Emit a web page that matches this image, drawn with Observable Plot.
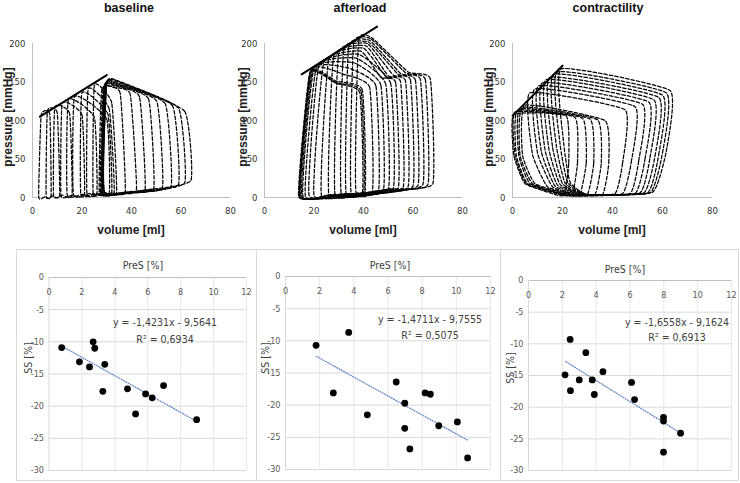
<!DOCTYPE html>
<html><head><meta charset="utf-8">
<script src="https://cdn.jsdelivr.net/npm/d3@7"></script>
<script src="https://cdn.jsdelivr.net/npm/@observablehq/plot@0.6"></script>
<style>
body{margin:0;background:#fff;}
#root{position:relative;width:740px;height:483px;overflow:hidden;font-family:"Liberation Sans Narrow","DejaVu Sans Condensed","Liberation Sans",sans-serif;}
.t{position:absolute;white-space:nowrap;transform:translate(-50%,-50%);line-height:1;}
.rot{transform:translate(-50%,-50%) rotate(-90deg);}
.box{position:absolute;border:1px solid #d9d9d9;box-sizing:border-box;}
svg{overflow:visible;}
</style></head><body><div id="root"></div>
<script>
// ---------- data ----------
const panelTitles = ["baseline", "afterload", "contractility"];
const volTicks = [0, 20, 40, 60, 80];
const pressTicks = [0, 50, 100, 150, 200];
const presTicks = [0, 2, 4, 6, 8, 10, 12];
const ssTicks = [0, -5, -10, -15, -20, -25, -30];

// PV loops: vertices [volume ml, pressure mmHg]
const baselineLoops = [
  [[64,22],[61.5,112],[35,151],[30,149],[29,8],[46,10]],
  [[61.5,19],[59,116],[35,150],[30,148],[29,8],[45,9]],
  [[59,17],[56.6,119],[34.5,149],[29.5,147],[29,7],[44,9]],
  [[56,15],[53.6,122],[34,148],[29.5,146],[28.5,7],[42,8]],
  [[52.5,13],[50.2,125],[34,147],[29,145],[28.5,7],[40,8]],
  [[49,12],[46.9,128],[33.5,146],[29,144],[28,7],[38,7]],
  [[45.5,11],[43.2,131],[33,145],[29,143],[28,6],[37,7]],
  [[42,10],[39.5,134],[32.5,143],[28.5,141],[27.5,6],[35,6]],
  [[37.5,8],[35.4,136],[28,140],[27,6],[32,6]],
  [[34,7],[32,123],[25,146],[24.5,6],[29,6]],
  [[33,7],[31,115],[22.5,141],[22,5],[27,5]],
  [[32,6],[30.5,108],[20,136],[19.5,5],[25,5]],
  [[31,6],[30,102],[17,131],[16.5,4],[23,5]],
  [[26,5],[25,104],[14.5,127],[14,4],[20,4]],
  [[21,4],[20,107],[12,122],[11.5,3],[16,3]],
  [[16,3],[15,109],[9,117],[8.5,3],[12,3]],
  [[11,3],[10,110],[6,112],[5.5,2],[8,2]],
  [[7.5,2],[7,108],[3.5,107],[2.5,1],[5,1]]
];
const afterloadLoops = [
  [[40,6],[39,138],[29,149],[18.5,163],[14,2],[26,3]],
  [[40.5,6],[39.5,140],[29,151],[18.7,164],[14.2,2],[26,3]],
  [[39.5,6],[38.5,136],[29,148],[18.3,162],[13.8,2],[26,3]],
  [[43.5,7],[42.5,143],[32,160],[19,166],[14.5,2],[28,4]],
  [[46,8],[45,145],[34,168],[19.5,167],[15,2],[30,4]],
  [[48,9],[47,146],[36,175],[20,168],[15.5,2],[31,4]],
  [[50,10],[49,147],[37,181],[21,170],[16.5,2],[32,5]],
  [[52,11],[51,148],[38,186],[22,172],[18,3],[34,5]],
  [[54,12],[53,149],[47,156],[39,190],[24,176],[20,3],[36,5]],
  [[56,13],[55,150],[49,157],[40,194],[26,180],[23,3],[38,6]],
  [[58,14],[57,151],[50,158],[41,197],[28,184],[26,4],[40,6]],
  [[60,15],[59,152],[52,159],[41.5,200],[30,188],[28.5,4],[42,7]],
  [[62,16],[61,152],[54,160],[42,202],[32,192],[31,5],[44,8]],
  [[64,17],[63,153],[55,161],[42.5,204],[34,196],[33,5],[46,9]],
  [[66,17],[65,153],[57,162],[43,206],[36,200],[35,6],[48,10]],
  [[68,18],[67,154],[58,163],[43.5,207],[38,204],[37,6],[50,11]]
];
const contractilityLoops = [
  [[56,7],[61.5,60],[63,139],[19.5,167],[20.5,70],[23,20],[30,4]],
  [[55,6],[60,58],[61.5,136],[18,163],[19,70],[22,20],[29.5,4]],
  [[54,6],[58.5,56],[60,133],[16.5,160],[17.5,68],[21,19],[29,4]],
  [[52.5,6],[57,54],[58.5,130],[15,156],[16,66],[20,18],[28.5,4]],
  [[51,6],[55,52],[56.5,127],[13.5,153],[14.5,64],[19,17],[28,4]],
  [[49,5],[53,50],[54.5,124],[12,149],[13,62],[18,16],[27.5,4]],
  [[47,5],[50.5,48],[52,121],[10.5,145],[11.5,60],[17,15],[27,3]],
  [[44,5],[47.5,46],[49,118],[9,141],[10,58],[16,14],[26.5,3]],
  [[41,5],[44,44],[45,114],[7,136],[8,56],[14,14],[26,3]],
  [[36,4],[38.5,45],[37,100],[5,120],[4,55],[9,18],[24,3]],
  [[33,4],[35.5,45],[34,101],[4,117],[3,55],[8,18],[23,3]],
  [[30,4],[32.5,45],[31,102],[3,115],[2.5,55],[7,18],[22,3]],
  [[27,4],[29.5,45],[28,103],[2,113],[1.5,55],[6,18],[21,3]],
  [[24,4],[26,45],[25,104],[1,111],[1,55],[5.5,18],[20,3]],
  [[21,4],[22.5,45],[21.5,106],[0.5,108],[0.5,55],[5,18],[18,3]]
];
// ESPVR lines (solid)
const baselineEspvr = [[3,105],[30,159]];
const afterloadEspvr = [[15,160],[45.5,222]];
const contractilityEspvr = [[0,106],[20,171]];

// Scatter data: PreS [%] vs SS [%]
const baselinePreS = [0.77,1.85,2.46,2.68,2.78,3.27,3.39,4.77,5.26,5.87,6.27,6.96,8.97];
const baselineSS   = [-10.9,-13.1,-13.9,-10.0,-11.0,-17.7,-13.5,-17.3,-21.2,-18.1,-18.7,-16.8,-22.1];
const afterloadPreS = [1.79,2.80,3.70,4.79,6.48,6.98,6.98,7.28,8.17,8.48,8.97,10.06,10.66];
const afterloadSS   = [-10.7,-18.1,-8.7,-21.5,-16.4,-19.7,-23.6,-26.8,-18.1,-18.3,-23.2,-22.6,-28.2];
const contractilityPreS = [2.46,2.16,2.48,3.0,3.39,3.77,3.89,4.40,6.09,6.27,7.98,7.98,8.99,7.98];
const contractilitySS   = [-9.3,-14.9,-17.4,-15.7,-11.4,-15.7,-18.0,-14.4,-16.1,-18.8,-21.6,-22.2,-24.1,-27.1];
// trend line end points [PreS, SS]
const baselineTrend = [[0.8,-10.7],[9.0,-22.4]];
const afterloadTrend = [[1.8,-12.4],[10.7,-25.5]];
const contractilityTrend = [[2.2,-12.8],[9.0,-24.1]];
const equations = ["y = -1,4231x - 9,5641", "y = -1,4711x - 9,7555", "y = -1,6558x - 9,1624"];
const r2 = ["R\u00B2 = 0,6934", "R\u00B2 = 0,5075", "R\u00B2 = 0,6913"];

// ---------- layout ----------
const root = document.getElementById("root");
const FONT = "'Liberation Sans Narrow','DejaVu Sans Condensed','Liberation Sans',sans-serif";
function put(node, left, top) {
  node.style.position = "absolute"; node.style.left = left + "px"; node.style.top = top + "px";
  root.appendChild(node);
}
function txt(s, x, y, css, rot) {
  const d = document.createElement("div");
  d.className = "t" + (rot ? " rot" : "");
  d.textContent = s;
  d.style.left = x + "px"; d.style.top = y + "px";
  Object.assign(d.style, css || {});
  root.appendChild(d);
}
function box(l, t, w, h) {
  const d = document.createElement("div"); d.className = "box";
  d.style.left = l + "px"; d.style.top = t + "px"; d.style.width = w + "px"; d.style.height = h + "px";
  root.appendChild(d);
}

function pvPlot(loops, espvr, ml, mr) {
  const rows = loops.flatMap((loop, i) => loop.map(([v, p]) => ({loop: i, v, p})));
  return Plot.plot({
    width: 245, height: 240, marginLeft: ml, marginRight: mr, marginTop: 43, marginBottom: 43,
    x: {domain: [0, 80]}, y: {domain: [0, 200]},
    style: {fontFamily: FONT, fontSize: "9.5px", color: "#333", background: "transparent", overflow: "visible"},
    marks: [
      Plot.ruleY([0], {stroke: "#bfbfbf"}),
      Plot.ruleX([0], {stroke: "#bfbfbf"}),
      Plot.axisX(volTicks, {tickSize: 0, tickPadding: 10, label: null}),
      Plot.axisY(pressTicks, {tickSize: 0, tickPadding: 7, label: null}),
      Plot.line(rows, {x: "v", y: "p", z: "loop", curve: "cardinal-closed", tension: 0.6,
        stroke: "#000", strokeWidth: 1.25, strokeDasharray: "3.5,2"}),
      Plot.line(espvr, {x: d => d[0], y: d => d[1], stroke: "#000", strokeWidth: 2})
    ]
  });
}

function scatterPlot(xs, ys, trend, g) {
  const pts = xs.map((x, i) => ({x, y: ys[i]}));
  return Plot.plot({
    width: g.w, height: 232, marginLeft: g.ml, marginRight: g.mr, marginTop: g.mt, marginBottom: g.mb,
    x: {domain: [0, 12]}, y: {domain: [-30, 0]},
    style: {fontFamily: FONT, fontSize: "9px", color: "#595959", background: "transparent", overflow: "visible"},
    marks: [
      Plot.gridY(ssTicks.slice(1), {stroke: "#d9d9d9", strokeOpacity: 1}),
      Plot.gridX(presTicks.slice(1), {stroke: "#e8e8e8", strokeOpacity: 1}),
      Plot.ruleY([0], {stroke: "#bfbfbf"}),
      Plot.ruleX([0], {stroke: "#d9d9d9"}),
      Plot.axisX(presTicks, {anchor: "top", tickSize: 0, tickPadding: 0, dy: 17, label: null}),
      Plot.axisY(ssTicks, {tickSize: 0, tickPadding: 5, label: null, tickFormat: d => String(d)}),
      Plot.line(trend, {x: d => d[0], y: d => d[1], stroke: "#5b84c9", strokeWidth: 1.2, strokeDasharray: "1,1.6"}),
      Plot.dot(pts, {x: "x", y: "y", r: 3.4, fill: "#000"})
    ]
  });
}

// top row
put(pvPlot(baselineLoops, baselineEspvr, 32, 15), 0, 0);
put(pvPlot(afterloadLoops, afterloadEspvr, 32, 15), 232, 0);
put(pvPlot(contractilityLoops, contractilityEspvr, 32, 13), 480, 0);

const titleCss = {fontFamily: "'Liberation Sans',sans-serif", fontWeight: "bold", fontSize: "12.5px", color: "#111"};
txt(panelTitles[0], 129, 8, titleCss);
txt(panelTitles[1], 360, 8, titleCss);
txt(panelTitles[2], 608, 8, titleCss);
const axCss = {fontFamily: "'Liberation Sans',sans-serif", fontWeight: "bold", fontSize: "12px", color: "#222"};
txt("volume [ml]", 131, 230, axCss);
txt("volume [ml]", 363, 230, axCss);
txt("volume [ml]", 612, 230, axCss);
txt("pressure [mmHg]", 8, 117, axCss, true);
txt("pressure [mmHg]", 243, 117, axCss, true);
txt("pressure [mmHg]", 489, 117, axCss, true);

// bottom row
box(16, 249, 241, 232);
box(256, 249, 245, 232);
box(500, 249, 239, 232);
put(scatterPlot(baselinePreS, baselineSS, baselineTrend, {w: 240, ml: 32.5, mr: 10, mt: 28, mb: 11}), 16, 249);
put(scatterPlot(afterloadPreS, afterloadSS, afterloadTrend, {w: 244, ml: 29, mr: 10, mt: 27, mb: 12}), 256, 249);
put(scatterPlot(contractilityPreS, contractilitySS, contractilityTrend, {w: 239, ml: 28, mr: 8, mt: 31, mb: 11}), 500, 249);

const smCss = {fontSize: "10.5px", color: "#404040"};
txt("PreS [%]", 143, 265, smCss);
txt("PreS [%]", 390, 265, smCss);
txt("PreS [%]", 625, 269, smCss);
txt("SS  [%]", 28, 358, smCss, true);
txt("SS  [%]", 265, 358, smCss, true);
txt("SS  [%]", 510, 368, smCss, true);
const eqCss = {fontSize: "10.5px", color: "#404040"};
txt(equations[0], 165, 322, eqCss); txt(r2[0], 165, 339, eqCss);
txt(equations[1], 430, 319, eqCss); txt(r2[1], 430, 335, eqCss);
txt(equations[2], 677, 322, eqCss); txt(r2[2], 677, 337, eqCss);
</script></body></html>
